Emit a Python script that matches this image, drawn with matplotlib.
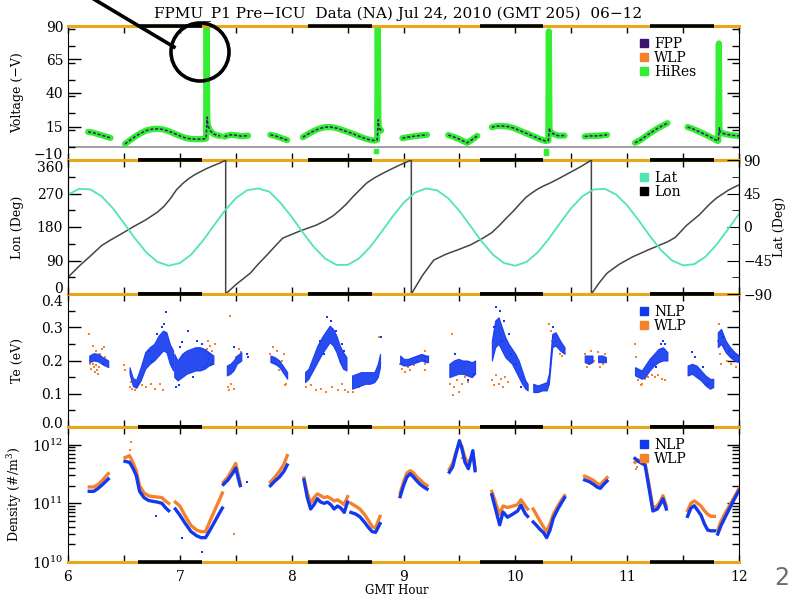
import numpy as np
import matplotlib.pyplot as plt
from matplotlib.lines import Line2D
from matplotlib.patches import Circle
from matplotlib.ticker import MultipleLocator, FormatStrFormatter
from matplotlib.transforms import ScaledTranslation

plt.rcParams['font.family'] = ['DejaVu Serif']
plt.rcParams['mathtext.fontset'] = 'dejavuserif'

# --- colours ---
SPINE = "#e6a817"
GREEN = "#33ee33"
FPP_C = "#3a1470"
ORANGE = "#f5822a"
BLUE = "#1238f0"
LAT_C = "#4fe6b2"
LON_C = "#454545"

# --- eclipse (black parts of the top/bottom axis) ---
eclipse = [(6.63, 7.20), (8.15, 8.72), (9.68, 10.25), (11.20, 11.78)]

# --- Voltage (HiRes), one list per data pass ---
volt_t = [
    [6.18, 6.22, 6.26, 6.30, 6.34, 6.38],
    [6.51, 6.55, 6.60, 6.65, 6.70, 6.75, 6.80, 6.85, 6.90, 6.95, 7.00, 7.05, 7.10, 7.15, 7.20, 7.235, 7.24, 7.245, 7.25, 7.27, 7.30, 7.33, 7.36],
    [7.40, 7.45, 7.50, 7.55, 7.61],
    [7.81, 7.86, 7.91, 7.96],
    [8.10, 8.15, 8.20, 8.25, 8.30, 8.35, 8.40, 8.45, 8.50, 8.55, 8.60, 8.65, 8.70, 8.74, 8.765, 8.77, 8.775, 8.78, 8.80],
    [8.99, 9.05, 9.10, 9.15, 9.21],
    [9.40, 9.45, 9.50, 9.55, 9.57, 9.61, 9.66],
    [9.79, 9.83, 9.88, 9.93, 9.98, 10.03, 10.08, 10.13, 10.18, 10.23, 10.27, 10.295, 10.30, 10.305, 10.31, 10.34, 10.38, 10.44],
    [10.62, 10.67, 10.72, 10.77, 10.82],
    [11.07, 11.12, 11.17, 11.22, 11.27, 11.32, 11.36],
    [11.54, 11.58, 11.62, 11.66, 11.70, 11.74, 11.78, 11.81, 11.815, 11.82, 11.825, 11.83, 11.87, 11.93, 12.0],
]
volt_v = [
    [11, 10.5, 9.5, 8.5, 7.5, 6.5],
    [2.0, 4.5, 7.5, 10, 12, 13, 13.3, 12.8, 11.5, 9.8, 8.0, 6.5, 5.7, 5.5, 5.6, 6, 90, 22, 16, 12, 9.5, 8.5, 8.0],
    [7.5, 8.8, 8.5, 7.8, 8.2],
    [8.8, 7.8, 6.3, 4.8],
    [7.0, 9.5, 11.8, 13.5, 14.5, 14.6, 13.8, 12.5, 11, 9.5, 7.8, 6.2, 5.0, 4.5, 5, 92, 20, 14, 12],
    [6.3, 7.2, 7.8, 8.3, 8.8],
    [8.6, 7.2, 5.5, 3.5, 2.8, 5, 8],
    [14.5, 15.3, 15.4, 15.0, 14.0, 12.3, 10.5, 8.8, 7.0, 5.3, 4.2, 4.5, 86, 14, 11.5, 9.5, 8.2, 8.2],
    [7.5, 8.0, 8.0, 8.3, 8.8],
    [2.8, 5, 8, 10.8, 13.5, 15.8, 17.5],
    [14.6, 13.5, 12, 10.5, 9, 7.3, 5.5, 4.2, 4.5, 77, 14, 11, 9.5, 8.5, 8.0],
]
volt_stray_t = [8.755, 10.27, 10.275]
volt_stray_v = [-3.5, -3.0, -5.0]

# --- Lat / Lon ---
lat_t = [6.0 + 0.1 * i for i in range(61)]
lat_v = [43.7, 51.3, 50.5, 41.3, 25.4, 5.3, -15.6, -34.1, -46.9, -52.0,
         -48.5, -37.2, -19.6, 1.1, 21.6, 38.6, 49.3, 51.8, 47.5, 32.4,
         13.6, -7.4, -27.2, -42.5, -50.9, -50.9, -42.5, -27.2, -7.4, 13.6,
         32.4, 45.9, 51.8, 49.3, 38.6, 21.6, 1.1, -19.6, -37.2, -48.5,
         -52.0, -46.9, -34.1, -15.7, 5.3, 25.4, 41.3, 50.4, 51.3, 43.7,
         29.0, 9.6, -11.5, -30.7, -44.8, -51.6, -49.9, -40.0, -23.5, -3.3, 17.6]
lon_t = [6.0, 6.05, 6.1, 6.2, 6.3, 6.38, 6.48, 6.58, 6.70, 6.80, 6.86, 6.92, 6.97, 7.03, 7.08, 7.13, 7.18, 7.24, 7.30, 7.36, 7.41,
         7.41, 7.50, 7.63, 7.70, 7.78, 7.85, 7.92, 8.08, 8.22, 8.30, 8.37, 8.43, 8.49, 8.55, 8.61, 8.67, 8.74, 8.82, 8.90, 8.97, 9.07,
         9.07, 9.17, 9.27, 9.38, 9.48, 9.60, 9.71, 9.79, 9.86, 9.92, 9.98, 10.04, 10.10, 10.16, 10.20, 10.25, 10.31, 10.40, 10.48, 10.56, 10.64, 10.68,
         10.68, 10.75, 10.82, 10.93, 11.05, 11.20, 11.36, 11.43, 11.48, 11.53, 11.59, 11.65, 11.70, 11.75, 11.80, 11.85, 11.90, 11.95, 12.0]
lon_v = [45, 60, 75, 102, 130, 145, 162, 180, 200, 220, 236, 258, 280, 298, 310, 320, 328, 337, 345, 352, 360,
         0, 25, 56, 80, 105, 128, 150, 170, 185, 197, 210, 225, 242, 262, 280, 298, 312, 325, 337, 347, 360,
         0, 50, 91, 107, 118, 132, 150, 165, 185, 204, 222, 242, 261, 274, 282, 290, 298, 312, 325, 338, 352, 360,
         0, 30, 56, 80, 100, 120, 140, 152, 168, 184, 199, 214, 230, 245, 258, 268, 278, 286, 293]

# --- Te, NLP bands (low / high edge) per pass ---
te_t = [
    [6.19, 6.23, 6.27, 6.31, 6.36],
    [6.55, 6.58, 6.61, 6.65, 6.69, 6.73, 6.77, 6.81, 6.85, 6.88, 6.91, 6.94],
    [6.95, 6.98, 7.02, 7.06, 7.10, 7.14, 7.18, 7.22, 7.26, 7.30],
    [7.42, 7.45, 7.48, 7.51, 7.55],
    [7.81, 7.85, 7.89, 7.93, 7.96],
    [8.12, 8.15, 8.19, 8.23, 8.27, 8.31, 8.34, 8.37, 8.40, 8.43, 8.46, 8.49],
    [8.54, 8.58, 8.62, 8.66, 8.70, 8.74, 8.77, 8.79],
    [8.97, 9.00, 9.04, 9.08, 9.12, 9.16, 9.20, 9.22],
    [9.41, 9.45, 9.49, 9.53, 9.57, 9.61, 9.64],
    [9.79, 9.82, 9.85, 9.88, 9.91, 9.94, 9.97, 10.00, 10.03, 10.06, 10.09, 10.11],
    [10.16, 10.20, 10.24, 10.28, 10.30, 10.33, 10.36, 10.40, 10.44],
    [10.62, 10.66, 10.69],
    [10.74, 10.78, 10.81],
    [11.07, 11.10, 11.13, 11.16, 11.20, 11.24, 11.28, 11.32, 11.36],
    [11.54, 11.58, 11.62, 11.66, 11.70, 11.74, 11.77],
    [11.81, 11.84, 11.88, 11.92, 11.96, 12.0],
]
te_lo = [
    [0.195, 0.200, 0.197, 0.188, 0.180],
    [0.16, 0.123, 0.118, 0.14, 0.175, 0.19, 0.20, 0.215, 0.23, 0.225, 0.19, 0.17],
    [0.15, 0.14, 0.15, 0.16, 0.165, 0.17, 0.17, 0.175, 0.185, 0.19],
    [0.155, 0.16, 0.17, 0.19, 0.20],
    [0.195, 0.19, 0.18, 0.16, 0.145],
    [0.135, 0.145, 0.17, 0.195, 0.22, 0.24, 0.255, 0.245, 0.225, 0.195, 0.175, 0.17],
    [0.115, 0.12, 0.125, 0.13, 0.13, 0.135, 0.15, 0.18],
    [0.19, 0.185, 0.185, 0.19, 0.195, 0.20, 0.195, 0.195],
    [0.15, 0.155, 0.16, 0.16, 0.155, 0.15, 0.16],
    [0.20, 0.24, 0.25, 0.23, 0.21, 0.20, 0.19, 0.17, 0.15, 0.13, 0.115, 0.11],
    [0.105, 0.105, 0.11, 0.11, 0.13, 0.24, 0.245, 0.23, 0.22],
    [0.195, 0.19, 0.195],
    [0.195, 0.195, 0.195],
    [0.155, 0.15, 0.145, 0.15, 0.17, 0.185, 0.195, 0.20, 0.20],
    [0.155, 0.16, 0.15, 0.14, 0.125, 0.115, 0.12],
    [0.24, 0.25, 0.225, 0.21, 0.20, 0.195],
]
te_hi = [
    [0.215, 0.222, 0.220, 0.210, 0.200],
    [0.18, 0.147, 0.142, 0.18, 0.225, 0.24, 0.25, 0.275, 0.29, 0.285, 0.25, 0.23],
    [0.22, 0.20, 0.22, 0.23, 0.235, 0.24, 0.24, 0.235, 0.225, 0.215],
    [0.185, 0.19, 0.20, 0.215, 0.225],
    [0.215, 0.21, 0.20, 0.18, 0.165],
    [0.165, 0.175, 0.21, 0.245, 0.27, 0.29, 0.305, 0.295, 0.275, 0.245, 0.225, 0.21],
    [0.155, 0.16, 0.165, 0.165, 0.165, 0.165, 0.19, 0.22],
    [0.215, 0.205, 0.205, 0.21, 0.215, 0.22, 0.215, 0.215],
    [0.19, 0.20, 0.205, 0.20, 0.20, 0.195, 0.2],
    [0.26, 0.32, 0.33, 0.30, 0.27, 0.25, 0.235, 0.22, 0.20, 0.17, 0.14, 0.13],
    [0.13, 0.125, 0.13, 0.135, 0.16, 0.28, 0.285, 0.26, 0.24],
    [0.215, 0.215, 0.215],
    [0.215, 0.215, 0.21],
    [0.18, 0.175, 0.17, 0.185, 0.205, 0.22, 0.235, 0.24, 0.225],
    [0.185, 0.19, 0.185, 0.17, 0.155, 0.145, 0.145],
    [0.285, 0.295, 0.26, 0.24, 0.225, 0.215],
]
te_nlp_extra = [(6.88, 0.345), (6.86, 0.31), (6.84, 0.30), (7.07, 0.29), (6.99, 0.125), (6.97, 0.12),
                (7.02, 0.255), (7.15, 0.26), (7.61, 0.21), (7.60, 0.22), (8.32, 0.33), (8.35, 0.32),
                (8.45, 0.25), (8.47, 0.23), (9.83, 0.36), (9.86, 0.35), (9.81, 0.30), (9.90, 0.32),
                (9.94, 0.28), (10.34, 0.30), (11.32, 0.26), (11.30, 0.25), (11.58, 0.225), (11.61, 0.21),
                (9.46, 0.22), (9.58, 0.14), (10.05, 0.12), (8.80, 0.27), (7.48, 0.24), (9.19, 0.20),
                (6.80, 0.28), (6.75, 0.20), (7.00, 0.24), (7.12, 0.15), (7.20, 0.25), (8.25, 0.26),
                (8.29, 0.22), (8.40, 0.29), (9.88, 0.26), (9.96, 0.22), (10.01, 0.19), (11.26, 0.18),
                (11.34, 0.25), (11.68, 0.18), (11.72, 0.13), (11.86, 0.27), (6.63, 0.13), (6.72, 0.23)]
te_wlp = [(6.19, 0.28), (6.20, 0.19), (6.21, 0.175), (6.22, 0.19), (6.23, 0.18), (6.24, 0.165), (6.25, 0.185),
          (6.26, 0.17), (6.27, 0.16), (6.28, 0.18), (6.29, 0.22), (6.30, 0.235), (6.31, 0.19), (6.32, 0.24),
          (6.33, 0.21), (6.34, 0.20), (6.22, 0.245), (6.25, 0.23),
          (6.50, 0.185), (6.51, 0.17), (6.55, 0.12), (6.57, 0.115), (6.60, 0.11), (6.62, 0.12), (6.66, 0.125),
          (6.70, 0.12), (6.74, 0.13), (6.78, 0.115), (6.82, 0.13), (6.85, 0.11), (6.56, 0.135),
          (7.22, 0.18), (7.23, 0.21), (7.24, 0.235), (7.25, 0.26), (7.26, 0.22), (7.27, 0.245), (7.28, 0.19),
          (7.29, 0.23), (7.30, 0.20), (7.31, 0.25), (7.245, 0.19), (7.265, 0.205), (7.45, 0.335),
          (7.43, 0.12), (7.44, 0.11), (7.46, 0.13), (7.48, 0.115), (7.50, 0.21), (7.53, 0.235), (7.55, 0.225),
          (7.81, 0.22), (7.83, 0.24), (7.85, 0.19), (7.87, 0.23), (7.89, 0.17), (7.91, 0.20), (7.93, 0.22),
          (7.95, 0.13), (7.94, 0.125),
          (8.13, 0.12), (8.17, 0.125), (8.22, 0.11), (8.26, 0.115), (8.31, 0.105), (8.36, 0.12), (8.41, 0.11),
          (8.45, 0.13), (8.48, 0.11), (8.50, 0.105), (8.55, 0.105), (8.60, 0.12), (8.78, 0.27),
          (8.97, 0.19), (8.99, 0.175), (9.01, 0.165), (9.04, 0.18), (9.06, 0.17), (9.09, 0.185), (9.12, 0.20),
          (9.14, 0.215), (9.19, 0.17), (9.19, 0.19), (9.19, 0.21), (9.19, 0.23),
          (9.42, 0.13), (9.45, 0.12), (9.48, 0.14), (9.50, 0.105), (9.52, 0.13), (9.55, 0.15), (9.58, 0.135),
          (9.44, 0.095), (9.62, 0.16), (9.43, 0.28),
          (9.79, 0.14), (9.81, 0.125), (9.83, 0.155), (9.85, 0.13), (9.87, 0.145), (9.89, 0.12), (9.91, 0.15),
          (9.93, 0.135),
          (10.30, 0.31), (10.32, 0.29), (10.34, 0.27), (10.36, 0.26), (10.38, 0.24), (10.40, 0.22),
          (10.42, 0.215), (10.33, 0.26),
          (10.62, 0.22), (10.64, 0.18), (10.66, 0.19), (10.68, 0.23), (10.70, 0.20), (10.74, 0.225),
          (10.76, 0.18), (10.78, 0.19), (10.80, 0.22), (10.81, 0.20),
          (11.07, 0.25), (11.08, 0.21), (11.10, 0.14), (11.13, 0.13), (11.16, 0.145), (11.19, 0.15),
          (11.22, 0.155), (11.25, 0.15), (11.28, 0.155), (11.31, 0.145), (11.34, 0.14), (11.12, 0.125),
          (11.81, 0.26), (11.82, 0.31), (11.83, 0.22), (11.85, 0.28), (11.87, 0.245), (11.89, 0.20),
          (11.91, 0.23), (11.93, 0.19), (11.95, 0.21), (11.97, 0.18), (11.99, 0.20), (11.84, 0.19)]

# --- Density (#/m^3) per pass ---
dens_t = [
    [6.19, 6.23, 6.27, 6.31, 6.36],
    [6.51, 6.55, 6.58, 6.61, 6.64, 6.68, 6.72, 6.76, 6.80, 6.84, 6.87, 6.90],
    [6.96, 7.00, 7.05, 7.10, 7.15, 7.19, 7.23, 7.27, 7.31, 7.35, 7.38],
    [7.39, 7.43, 7.47, 7.50, 7.52, 7.54],
    [7.81, 7.85, 7.89, 7.93, 7.96],
    [8.11, 8.14, 8.17, 8.20, 8.23, 8.26, 8.29, 8.32, 8.35, 8.38, 8.41, 8.44, 8.47, 8.50],
    [8.53, 8.57, 8.61, 8.65, 8.69, 8.72, 8.75, 8.79],
    [8.97, 9.00, 9.03, 9.06, 9.09, 9.12, 9.15, 9.18, 9.21],
    [9.41, 9.44, 9.47, 9.50, 9.52, 9.55, 9.58, 9.62, 9.64],
    [9.79, 9.83, 9.86, 9.89, 9.93, 9.98, 10.02, 10.05, 10.09, 10.11],
    [10.16, 10.19, 10.22, 10.25, 10.28, 10.31, 10.34, 10.38, 10.41, 10.44],
    [10.62, 10.66, 10.70, 10.73, 10.76, 10.79, 10.82],
    [11.07, 11.10, 11.13, 11.16, 11.19, 11.23, 11.27, 11.30, 11.32, 11.35],
    [11.54, 11.57, 11.60, 11.63, 11.66, 11.69, 11.72, 11.75, 11.78],
    [11.81, 11.84, 11.88, 11.92, 11.96, 12.0],
]
dens_nlp = [
    [1.6e11, 1.6e11, 1.8e11, 2.1e11, 2.6e11],
    [5.2e11, 5.0e11, 4.0e11, 3.0e11, 1.6e11, 1.25e11, 1.12e11, 1.08e11, 1.05e11, 1.0e11, 8.5e10, 7.5e10],
    [8.0e10, 6.3e10, 4.5e10, 3.3e10, 2.8e10, 2.6e10, 2.6e10, 3.5e10, 4.8e10, 6.6e10, 8.3e10],
    [2.1e11, 2.5e11, 3.2e11, 4.0e11, 2.8e11, 2.0e11],
    [2.0e11, 2.4e11, 2.8e11, 3.5e11, 4.5e11],
    [2.5e11, 1.25e11, 8.0e10, 9.5e10, 1.2e11, 1.05e11, 1.0e11, 1.05e11, 9.5e10, 8.0e10, 9.0e10, 8.3e10, 7.0e10, 1.05e11],
    [7.0e10, 6.6e10, 5.9e10, 4.8e10, 3.8e10, 3.3e10, 3.2e10, 4.5e10],
    [1.3e11, 2.0e11, 2.8e11, 3.2e11, 2.8e11, 2.4e11, 2.1e11, 1.9e11, 1.75e11],
    [3.4e11, 4.2e11, 7.1e11, 1.17e12, 8.9e11, 5.0e11, 3.9e11, 7.9e11, 3.6e11],
    [1.4e11, 7.1e10, 4.3e10, 7.1e10, 5.8e10, 6.6e10, 7.4e10, 9.3e10, 6.6e10, 6.0e10],
    [4.8e10, 4.2e10, 3.6e10, 3.2e10, 2.6e10, 3.5e10, 5.6e10, 8.0e10, 1.0e11, 1.25e11],
    [2.5e11, 2.35e11, 2.1e11, 1.9e11, 1.8e11, 2.1e11, 2.4e11],
    [5.8e11, 5.2e11, 4.8e11, 4.5e11, 2.1e11, 7.4e10, 8.0e10, 1.0e11, 1.2e11, 8.0e10],
    [6.0e10, 8.3e10, 9.1e10, 7.6e10, 6.3e10, 4.5e10, 3.5e10, 3.4e10, 3.4e10],
    [3.0e10, 4.2e10, 6.0e10, 8.5e10, 1.2e11, 1.65e11],
]
dens_wlp = [
    [1.9e11, 1.9e11, 2.1e11, 2.5e11, 3.2e11],
    [6.0e11, 6.5e11, 5.0e11, 3.6e11, 2.0e11, 1.5e11, 1.35e11, 1.3e11, 1.28e11, 1.25e11, 1.1e11, 1.0e11],
    [1.05e11, 9.0e10, 6.0e10, 4.2e10, 3.5e10, 3.3e10, 3.3e10, 5.0e10, 7.5e10, 1.1e11, 1.5e11],
    [2.3e11, 2.8e11, 3.8e11, 4.8e11, 3.2e11, 2.2e11],
    [2.3e11, 2.8e11, 3.5e11, 4.6e11, 6.5e11],
    [2.7e11, 1.5e11, 1.0e11, 1.25e11, 1.45e11, 1.35e11, 1.25e11, 1.3e11, 1.2e11, 1.1e11, 1.15e11, 1.05e11, 9.5e10, 1.3e11],
    [1.0e11, 9.0e10, 8.0e10, 6.5e10, 5.0e10, 4.0e10, 3.8e10, 6.0e10],
    [1.5e11, 2.3e11, 3.3e11, 3.6e11, 3.3e11, 2.8e11, 2.5e11, 2.2e11, 2.0e11],
    [3.8e11, 4.8e11, 7.5e11, 1.05e12, 9.5e11, 6.0e11, 4.8e11, 7.0e11, 4.0e11],
    [1.6e11, 9.5e10, 6.5e10, 9.0e10, 8.5e10, 9.0e10, 9.5e10, 1.15e11, 9.0e10, 8.0e10],
    [8.0e10, 6.3e10, 5.0e10, 4.0e10, 3.3e10, 4.5e10, 6.5e10, 9.0e10, 1.12e11, 1.35e11],
    [2.9e11, 2.7e11, 2.45e11, 2.2e11, 2.05e11, 2.4e11, 2.75e11],
    [5.0e11, 5.5e11, 5.0e11, 4.8e11, 2.4e11, 8.5e10, 9.0e10, 1.12e11, 1.35e11, 9.0e10],
    [7.5e10, 1.0e11, 1.1e11, 1.0e11, 9.0e10, 7.5e10, 6.5e10, 6.0e10, 6.0e10],
    [3.5e10, 5.0e10, 7.0e10, 9.5e10, 1.3e11, 1.8e11],
]
dens_wlp_extra = [(6.56, 1.1e12), (6.55, 8.0e11), (7.48, 3.0e10), (11.08, 3.8e11), (11.09, 4.2e11), (9.52, 6.0e11)]
dens_nlp_extra = [(7.02, 2.6e10), (7.20, 1.5e10), (6.79, 6.0e10), (7.60, 2.3e11)]

title = "FPMU_P1 Pre\u2212ICU  Data (NA) Jul 24, 2010 (GMT 205)  06\u221212"

# --- figure ---
fig = plt.figure(figsize=(7.88, 5.96), dpi=100)
L, W = 68 / 788, 671 / 788
def panel(top, bot):
    return fig.add_axes([L, 1 - bot / 596, W, (bot - top) / 596])

ax1 = panel(26, 160)
ax2 = panel(160, 294)
ax3 = panel(294, 427)
ax4 = panel(427, 562)


def frame(ax, right=True):
    ax.set_xlim(6, 12)
    for s in ["top", "bottom"]:
        ax.spines[s].set_color(SPINE)
        ax.spines[s].set_linewidth(2.2)
    for a, b in eclipse:
        for yy in (0, 1):
            ax.plot([a, b], [yy, yy], color="k", lw=2.6, transform=ax.get_xaxis_transform(),
                    clip_on=False, solid_capstyle="butt", zorder=6)
    ax.xaxis.set_major_locator(MultipleLocator(1))
    ax.xaxis.set_minor_locator(MultipleLocator(0.5))
    ax.tick_params(which="both", direction="in", top=True, right=right, labelsize=10, width=1)
    ax.tick_params(axis="y", which="major", length=9)
    ax.tick_params(axis="y", which="minor", length=5)
    ax.tick_params(axis="x", which="both", length=5, labelbottom=False)


def nudge(ax, idx, dy):
    # shift one y tick label up (+) or down (-) by dy points, like the stacked IDL labels
    tk = ax.yaxis.get_major_ticks()[idx]
    tk.label1.set_transform(tk.label1.get_transform() + ScaledTranslation(0, dy / 72, fig.dpi_scale_trans))


def square_legend(ax, labels, colors, x, y):
    h = [Line2D([], [], marker="s", ls="none", color=c, ms=6) for c in colors]
    ax.legend(h, labels, loc="upper left", bbox_to_anchor=(x, y), frameon=False,
              handletextpad=0.3, labelspacing=0.0, borderpad=0, handlelength=0.8,
              prop={"size": 10})


# Panel 1 : voltage
frame(ax1)
ax1.set_ylim(-10, 90)
ax1.set_yticks([-10, 15, 40, 65, 90])
ax1.yaxis.set_minor_locator(MultipleLocator(12.5))
ax1.axhline(0, color="#909090", lw=1.2, zorder=1)
for t, v in zip(volt_t, volt_v):
    ax1.plot(t, v, color=GREEN, lw=4.5, solid_capstyle="round", zorder=2)
    tf = [a for a, b in zip(t, v) if b < 25]
    vf = [b for b in v if b < 25]
    ax1.plot(tf, vf, color=FPP_C, lw=1.1, dashes=(2, 1.2), zorder=3)
ax1.scatter(volt_stray_t, volt_stray_v, color=GREEN, s=8, marker="s", zorder=3)
ax1.set_ylabel("Voltage (\u2212V)", fontsize=9)
ax1.yaxis.set_label_coords(-0.066, 0.5)
square_legend(ax1, ["FPP", "WLP", "HiRes"], [FPP_C, ORANGE, GREEN], 0.84, 0.97)
nudge(ax1, 0, 5.0)

# Panel 2 : Lon / Lat
frame(ax2, right=False)
ax2.set_ylim(0, 360)
ax2.set_yticks([0, 90, 180, 270, 360])
ax2.yaxis.set_minor_locator(MultipleLocator(45))
ax2.plot(lon_t, lon_v, color=LON_C, lw=1.1, zorder=3)
ax2.set_ylabel("Lon (Deg)", fontsize=9)
ax2.yaxis.set_label_coords(-0.066, 0.5)
nudge(ax2, 4, -4.5)
nudge(ax2, 0, 5.0)
ax2r = ax2.twinx()
ax2r.set_ylim(-90, 90)
ax2r.set_yticks([-90, -45, 0, 45, 90])
ax2r.yaxis.set_minor_locator(MultipleLocator(22.5))
ax2r.tick_params(which="both", direction="in", labelsize=10, pad=3)
ax2r.tick_params(which="major", length=9)
ax2r.tick_params(which="minor", length=5)
ax2r.spines["top"].set_visible(False)
ax2r.spines["bottom"].set_visible(False)
ax2r.plot(lat_t, lat_v, color=LAT_C, lw=1.3, zorder=2)
ax2r.set_ylabel("Lat (Deg)", fontsize=9)
ax2r.yaxis.set_label_coords(1.05, 0.5)
square_legend(ax2r, ["Lat", "Lon"], [LAT_C, "k"], 0.84, 0.97)

# Panel 3 : Te
frame(ax3)
ax3.set_ylim(0, 0.4)
ax3.yaxis.set_minor_locator(MultipleLocator(0.05))
ax3.yaxis.set_major_formatter(FormatStrFormatter("%.1f"))
ax3.set_yticks([0.0, 0.1, 0.2, 0.3, 0.4])
ax3.scatter([p[0] for p in te_wlp], [p[1] for p in te_wlp], color=ORANGE, s=3, marker="s", lw=0, zorder=2)
for t, lo, hi in zip(te_t, te_lo, te_hi):
    ax3.fill_between(t, lo, hi, color=BLUE, lw=0.8, edgecolor=BLUE, alpha=0.9, zorder=3)
ax3.scatter([p[0] for p in te_nlp_extra], [p[1] for p in te_nlp_extra], color=BLUE, s=3, marker="s", lw=0, zorder=3)
ax3.set_ylabel("Te (eV)", fontsize=9)
ax3.yaxis.set_label_coords(-0.066, 0.5)
square_legend(ax3, ["NLP", "WLP"], [BLUE, ORANGE], 0.84, 0.97)
nudge(ax3, 4, -4.5)
nudge(ax3, 0, 3.0)

# Panel 4 : Density
frame(ax4)
ax4.set_yscale("log")
ax4.set_ylim(1e10, 2e12)
ax4.tick_params(axis="x", which="both", labelbottom=True, pad=6)
for t, nl, nw in zip(dens_t, dens_nlp, dens_wlp):
    ax4.plot(t, nw, color=ORANGE, lw=2.4, zorder=2)
    ax4.plot(t, nl, color=BLUE, lw=2.4, zorder=3)
ax4.scatter([p[0] for p in dens_wlp_extra], [p[1] for p in dens_wlp_extra], color=ORANGE, s=4, marker="s", lw=0)
ax4.scatter([p[0] for p in dens_nlp_extra], [p[1] for p in dens_nlp_extra], color=BLUE, s=4, marker="s", lw=0)
ax4.set_ylabel("Density (#/m$^3$)", fontsize=9)
ax4.yaxis.set_label_coords(-0.066, 0.5)
ax4.set_xlabel("GMT Hour", fontsize=8.5)
ax4.xaxis.set_label_coords(0.49, -0.165)
square_legend(ax4, ["NLP", "WLP"], [BLUE, ORANGE], 0.84, 0.97)

fig.text(398 / 788, 1 - 14 / 596, title, ha="center", va="center", fontsize=11)
fig.text(782 / 788, 1 - 578 / 596, "2", ha="center", va="center", fontsize=17,
         color="#6e6e6e", family="DejaVu Sans")

# callout circle + pointer line, in pixel units
ov = fig.add_axes([0, 0, 1, 1], facecolor="none")
ov.set_xlim(0, 788)
ov.set_ylim(596, 0)
ov.axis("off")
ov.add_patch(Circle((200, 52), 29, fill=False, ec="k", lw=2.6))
ov.plot([92, 174], [-2, 47], color="k", lw=2.6)

fig.savefig("out.png", dpi=100)
